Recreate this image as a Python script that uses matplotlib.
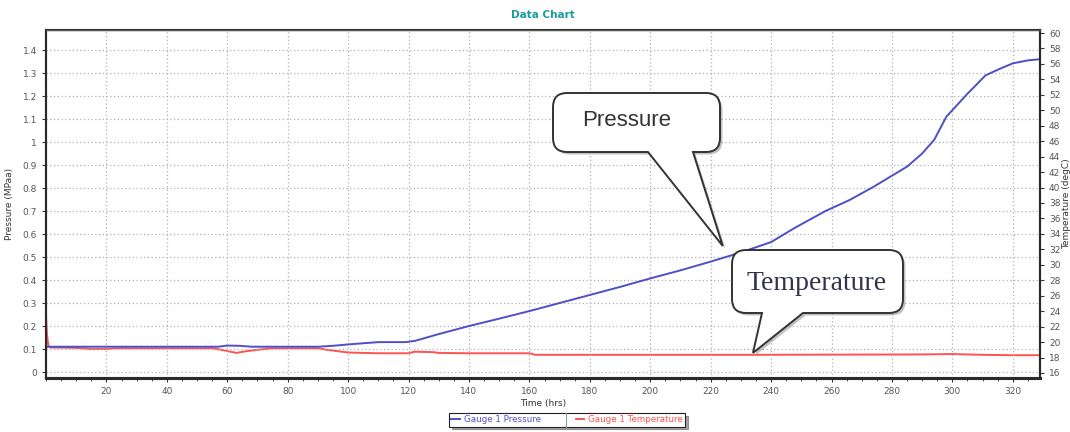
import matplotlib.pyplot as plt
import numpy as np
from matplotlib.path import Path
from matplotlib.patches import PathPatch
from matplotlib.lines import Line2D
from matplotlib.ticker import MultipleLocator, FuncFormatter

# -----------------------------
# Data
# -----------------------------
press_t = [0, 0.5, 10, 20, 40, 57, 60, 64, 68, 80, 90, 95, 100, 105, 110, 119, 122,
           130, 140, 150, 160, 170, 180, 190, 200, 210, 220, 230, 240, 248, 258,
           266, 274, 285, 290, 294, 298, 305, 311, 316, 320, 325, 329]
press_p = [0.105, 0.11, 0.11, 0.11, 0.11, 0.11, 0.115, 0.114, 0.11, 0.11, 0.11, 0.114,
           0.12, 0.125, 0.13, 0.13, 0.135, 0.165, 0.2, 0.232, 0.265, 0.3, 0.335,
           0.37, 0.407, 0.442, 0.48, 0.52, 0.565, 0.628, 0.70, 0.748, 0.806, 0.893,
           0.95, 1.01, 1.11, 1.21, 1.29, 1.32, 1.342, 1.355, 1.36]

temp_t = [0, 0.3, 0.8, 1.5, 10, 15, 20, 23, 55, 58, 63, 66, 70, 75, 90, 93, 97,
          100, 110, 120, 122, 128, 130, 140, 160, 162, 200, 235, 290, 300, 310,
          320, 329]
temp_c = [23.5, 21.0, 19.5, 19.3, 19.25, 19.1, 19.1, 19.2, 19.2, 19.0, 18.6, 18.8,
          19.0, 19.2, 19.2, 19.0, 18.8, 18.65, 18.55, 18.55, 18.75, 18.7, 18.6,
          18.55, 18.55, 18.35, 18.35, 18.35, 18.4, 18.45, 18.35, 18.3, 18.3]

x_ticks = np.arange(20, 321, 20)
p_ticks = np.arange(0, 1.41, 0.1)
t_ticks = np.arange(16, 61, 2)

W, H = 1070, 432
blue = "#4f4fc8"
red = "#ff5252"
tick_col = "#555555"

fig = plt.figure(figsize=(W / 100, H / 100), dpi=100)
ax = fig.add_axes([46 / W, 1 - 378 / H, 994 / W, 348 / H])
ax2 = ax.twinx()

ax.set_xlim(0, 329)
ax.set_ylim(-0.026, 1.487)
ax2.set_ylim(15.35, 60.39)

lt, = ax2.plot(temp_t, temp_c, color=red, lw=1.4, label="Gauge 1 Temperature")
lp, = ax.plot(press_t, press_p, color=blue, lw=1.4, label="Gauge 1 Pressure")
ax.set_zorder(ax2.get_zorder() + 1)
ax.patch.set_visible(False)

ax.set_xticks(x_ticks)
ax.xaxis.set_minor_locator(MultipleLocator(5))
ax.set_yticks(p_ticks)
ax.yaxis.set_major_formatter(FuncFormatter(lambda v, _: "%g" % round(v, 1)))
ax2.set_yticks(t_ticks)

ax.grid(True, which="major", color="#b0b0b0", linestyle=(0, (1, 2)), lw=0.9)
for a in (ax, ax2):
    a.tick_params(labelsize=6.5, labelcolor=tick_col, color="#333333",
                  length=3, width=0.8, direction="out")
ax.tick_params(which="minor", length=2, width=0.6, color="#333333")

for a in (ax, ax2):
    for s in a.spines.values():
        s.set_color("#2a2a2a")
        s.set_linewidth(1.5)
ax.spines["bottom"].set_linewidth(2.2)
ax2.spines["bottom"].set_linewidth(2.2)
ax.spines["top"].set_color("#555555")
ax.spines["top"].set_linewidth(1.0)

ax.set_xlabel("Time (hrs)", fontsize=6.5, color="#333333", labelpad=2)
ax.set_ylabel("Pressure (MPaa)", fontsize=6.5, color="#333333")
ax2.set_ylabel("Temperature (degC)", fontsize=6.5, color="#333333")
ax.yaxis.set_label_coords((14 - 46) / 994, 0.5)
ax2.yaxis.set_label_coords((1062 - 46) / 994, 0.5)

fig.text(543 / W, 1 - 15 / H, "Data Chart", ha="center", va="center",
         fontsize=7.5, fontweight="bold", color="#1a9a9a")

# legend along the bottom
leg = fig.legend(handles=[lp, lt], loc="center", bbox_to_anchor=(567 / W, 1 - 420 / H),
                 ncol=2, fontsize=6.3, frameon=True, fancybox=False, shadow=True,
                 edgecolor="#222222", handlelength=1.0, handletextpad=0.4,
                 columnspacing=4.0, borderpad=0.25, labelcolor="linecolor")
leg.get_frame().set_linewidth(0.8)

fig.canvas.draw()
lb = leg.get_window_extent()
hb = leg.legend_handles[1].get_window_extent()
div_x = (hb.x0 - 10) / W
fig.add_artist(Line2D([div_x, div_x], [lb.y0 / H, lb.y1 / H], color="#999999",
                      lw=0.8, transform=fig.transFigure, zorder=10))

# -----------------------------
# Speech-bubble callouts
# -----------------------------
def to_fig(x, y):
    return x / W, 1 - y / H


def bubble(left, top, right, bottom, base1, base2, tip, rad=14):
    tx, ty = tip
    pts = [
        (Path.MOVETO, (left + rad, top)),
        (Path.LINETO, (right - rad, top)),
        (Path.CURVE3, (right, top)), (Path.CURVE3, (right, top + rad)),
        (Path.LINETO, (right, bottom - rad)),
        (Path.CURVE3, (right, bottom)), (Path.CURVE3, (right - rad, bottom)),
        (Path.LINETO, (base2, bottom)),
        (Path.LINETO, (tx, ty)),
        (Path.LINETO, (base1, bottom)),
        (Path.LINETO, (left + rad, bottom)),
        (Path.CURVE3, (left, bottom)), (Path.CURVE3, (left, bottom - rad)),
        (Path.LINETO, (left, top + rad)),
        (Path.CURVE3, (left, top)), (Path.CURVE3, (left + rad, top)),
        (Path.CLOSEPOLY, (left + rad, top)),
    ]
    codes = [c for c, _ in pts]
    shadow = Path([to_fig(x + 2.5, y + 2.5) for _, (x, y) in pts], codes)
    body = Path([to_fig(x, y) for _, (x, y) in pts], codes)
    fig.add_artist(PathPatch(shadow, facecolor="#9a9a9a", edgecolor="none",
                             alpha=0.6, transform=fig.transFigure, zorder=5))
    fig.add_artist(PathPatch(body, facecolor="white", edgecolor="#333333",
                             lw=1.4, transform=fig.transFigure, zorder=6))


def data_px(axis, x, y):
    dx, dy = axis.transData.transform((x, y))
    return dx, H - dy


bubble(553, 93, 720, 152, 648, 693, data_px(ax, 224, 0.548))
fig.text(*to_fig(627, 121), "Pressure", ha="center", va="center", fontsize=16,
         family="Liberation Sans", color="#333333", zorder=7)

bubble(732, 250, 903, 313, 762, 803, data_px(ax2, 234, 18.6))
fig.text(*to_fig(817, 283), "Temperature", ha="center", va="center", fontsize=20,
         family="Liberation Serif", color="#33334a", zorder=7)

plt.savefig("out.png", dpi=100)
